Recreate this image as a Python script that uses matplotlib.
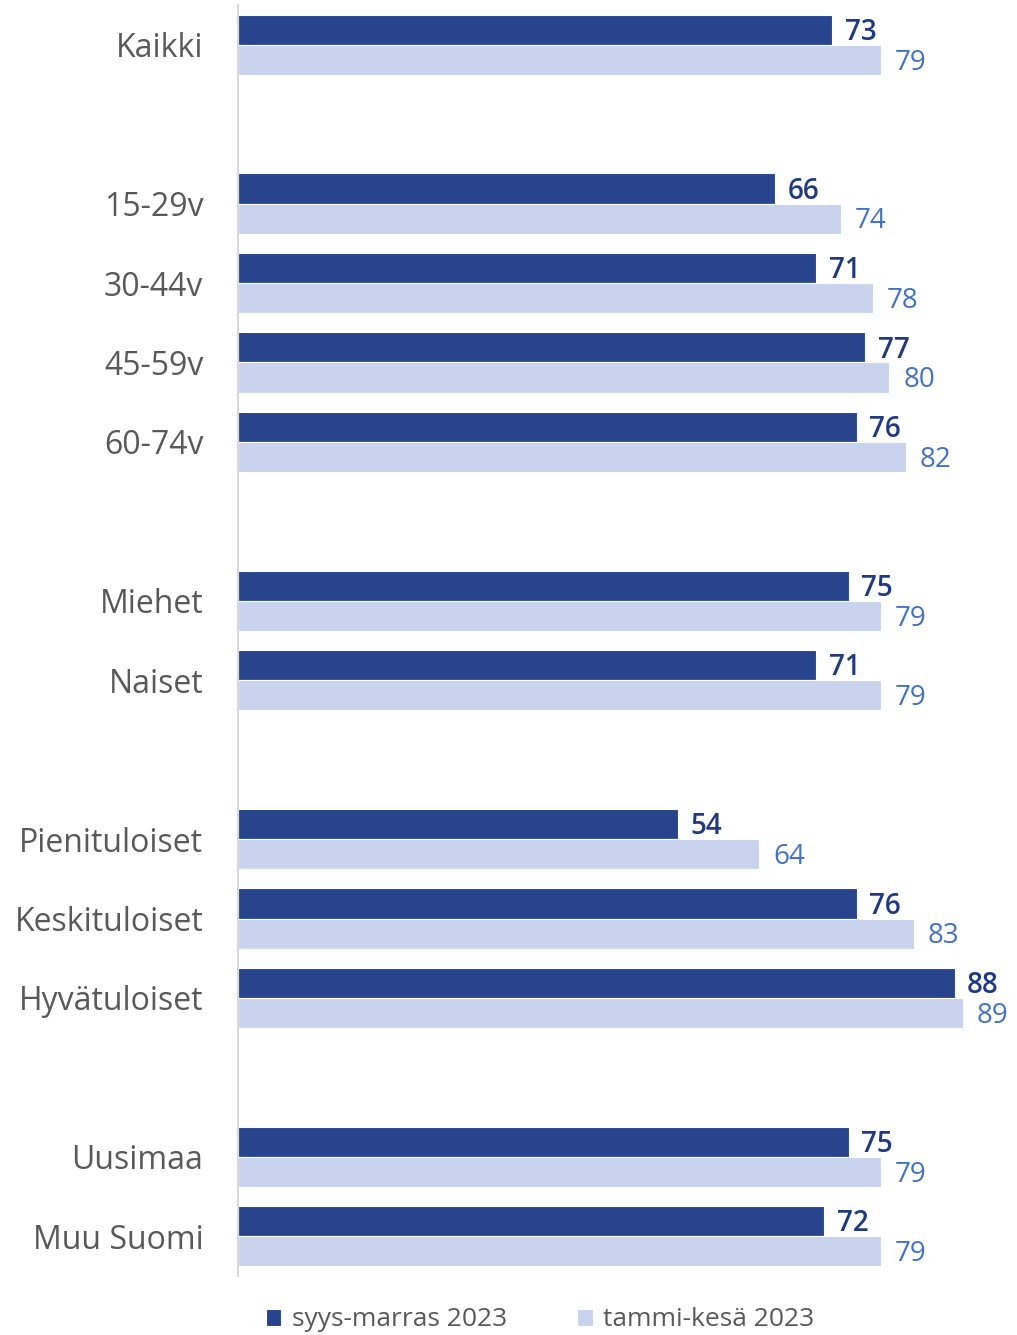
"""Grouped horizontal bars: autumn 2023 vs spring 2023 by respondent group."""

import matplotlib.pyplot as plt
import numpy as np

plt.rcParams["font.family"] = ["Open Sans", "DejaVu Sans"]

# empty strings are the spacer rows between groups
categories = [
    "Kaikki", "",
    "15-29v", "30-44v", "45-59v", "60-74v", "",
    "Miehet", "Naiset", "",
    "Pienituloiset", "Keskituloiset", "Hyvätuloiset", "",
    "Uusimaa", "Muu Suomi",
]
autumn = [73, None, 66, 71, 77, 76, None, 75, 71, None, 54, 76, 88, None, 75, 72]
spring = [79, None, 74, 78, 80, 82, None, 79, 79, None, 64, 83, 89, None, 79, 79]
series_names = ["syys-marras 2023", "tammi-kesä 2023"]

DARK = "#27448D"
LIGHT = "#C9D3EE"
DARK_TXT = "#1F3A80"
LIGHT_TXT = "#4472C4"
GREY = "#595959"

W, H = 1017, 1335
fig = plt.figure(figsize=(W / 100, H / 100), dpi=100)
ax = fig.add_axes([238 / W, 1 - 1276 / H, (1010 - 238) / W, (1276 - 5) / H])

y = np.arange(len(categories))
bar_h = 0.38
rows = [i for i, c in enumerate(categories) if c]
a_vals = [autumn[i] for i in rows]
s_vals = [spring[i] for i in rows]
rows = np.array(rows)

b1 = ax.barh(rows - bar_h / 2, a_vals, height=bar_h, color=DARK,
             edgecolor="white", linewidth=0.8, label=series_names[0])
b2 = ax.barh(rows + bar_h / 2, s_vals, height=bar_h, color=LIGHT,
             edgecolor="white", linewidth=0.8, label=series_names[1])

for r, a, s in zip(rows, a_vals, s_vals):
    ax.annotate(str(a), xy=(a, r - bar_h / 2), xytext=(9, -2),
                textcoords="offset points", va="center", ha="left",
                color=DARK_TXT, fontsize=20, fontweight="semibold")
    ax.annotate(str(s), xy=(s, r + bar_h / 2), xytext=(10, -2),
                textcoords="offset points", va="center", ha="left",
                color=LIGHT_TXT, fontsize=20)

ax.set_xlim(0, 94.8)
ax.set_ylim(len(categories) - 0.5, -0.5)
ax.set_yticks(y)
ax.set_yticklabels(categories, fontsize=23, color=GREY)
ax.tick_params(axis="y", length=0, pad=25)
ax.set_xticks([])

for side in ["top", "right", "bottom"]:
    ax.spines[side].set_visible(False)
ax.spines["left"].set_color("#D9D9D9")
ax.spines["left"].set_linewidth(1.5)

fig.legend(handles=[b1, b2], loc="center", ncol=2, frameon=False,
           bbox_to_anchor=(540 / W, 1 - 1320 / H), fontsize=19,
           handlelength=0.6, handleheight=0.6, handletextpad=0.4,
           columnspacing=2.65, labelcolor=GREY)

fig.savefig("out.png", dpi=100)
